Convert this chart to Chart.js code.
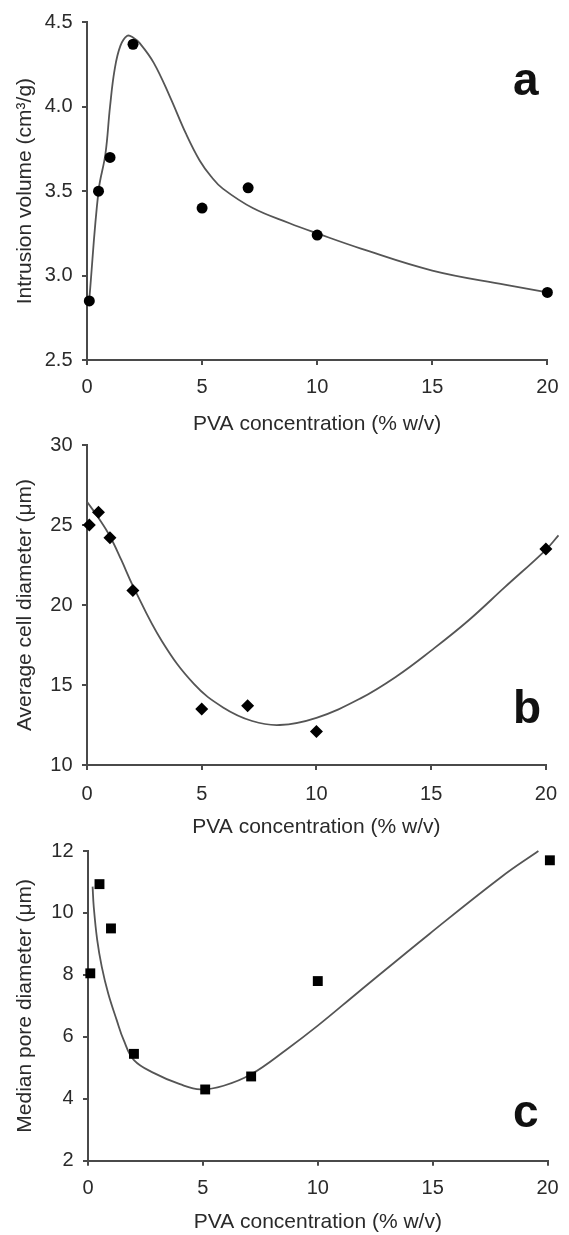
<!DOCTYPE html>
<html><head><meta charset="utf-8">
<script src="https://cdn.jsdelivr.net/npm/chart.js@4.4.1/dist/chart.umd.min.js"></script>
<style>
html,body{margin:0;padding:0;background:#fff;width:569px;height:1235px;overflow:hidden}
canvas{position:absolute;left:0}
</style></head><body>
<canvas id="ca" width="569" height="440" style="top:0px"></canvas>
<canvas id="cb" width="569" height="425" style="top:415px"></canvas>
<canvas id="cc" width="569" height="415" style="top:820px"></canvas>
<script>
// ---- data ----
const pvaA = [0.1, 0.5, 1, 2, 5, 7, 10, 20];
const intrusionVolume = [2.85, 3.5, 3.7, 4.37, 3.4, 3.52, 3.24, 2.9];
const fitAx = [0.1, 0.5, 0.8, 1.0, 1.2, 1.45, 1.75, 2.0, 2.3, 2.9, 3.6, 4.3, 4.9, 5.4, 5.9, 7.2, 8.8, 10, 11.9, 15, 18.2, 20];
const fitAy = [2.86, 3.5, 3.72, 4.0, 4.22, 4.36, 4.42, 4.41, 4.375, 4.26, 4.06, 3.84, 3.68, 3.585, 3.515, 3.40, 3.31, 3.25, 3.16, 3.03, 2.945, 2.9];

const pvaB = [0.1, 0.5, 1, 2, 5, 7, 10, 20];
const cellDiameter = [25.0, 25.8, 24.2, 20.9, 13.5, 13.7, 12.1, 23.5];
const fitBx = [0, 0.5, 1, 1.5, 2, 3.26, 4.67, 5.93, 7.2, 8.4, 10, 11.9, 13.5, 15, 16.6, 18.2, 20, 20.55];
const fitBy = [26.45, 25.45, 24.3, 22.8, 21.2, 17.75, 15.05, 13.6, 12.75, 12.5, 12.95, 14.15, 15.55, 17.15, 19.0, 21.1, 23.45, 24.35];

const pvaC = [0.1, 0.5, 1, 2, 5.1, 7.1, 10, 20.1];
const poreDiameter = [8.05, 10.93, 9.5, 5.45, 4.3, 4.72, 7.8, 11.7];
const fitCx = [0.2, 0.25, 0.4, 0.6, 0.88, 1.25, 1.55, 2.0, 2.9, 4.0, 4.9, 5.9, 7.1, 8.66, 10, 11.76, 14.87, 18, 19.6];
const fitCy = [10.85, 10.2, 9.13, 8.26, 7.4, 6.54, 5.9, 5.25, 4.82, 4.47, 4.3, 4.42, 4.79, 5.6, 6.36, 7.44, 9.33, 11.17, 12.0];

const xTicks = [0, 5, 10, 15, 20];
const yTicksA = [2.5, 3.0, 3.5, 4.0, 4.5];
const yTicksB = [10, 15, 20, 25, 30];
const yTicksC = [2, 4, 6, 8, 10, 12];

const xTitle = 'PVA concentration (% w/v)';
const yTitleA = 'Intrusion volume (cm\u00B3/g)';
const yTitleB = 'Average cell diameter (\u03BCm)';
const yTitleC = 'Median pore diameter (\u03BCm)';
const panelLetters = ['a', 'b', 'c'];

// ---- helpers ----
const FONT = "'Liberation Sans', Arial, Helvetica, sans-serif";
const TEXT = '#2a2a2a';
const AXIS = '#4a4a4a';
const CURVE = '#555555';

function pts(xs, ys) { return xs.map((x, i) => ({x: x, y: ys[i]})); }

function makePanel(id, cfg) {
  const letterPlugin = {
    id: 'letter' + id,
    afterDraw(chart) {
      const ctx = chart.ctx;
      ctx.save();
      ctx.fillStyle = '#111';
      ctx.font = 'bold 46px ' + FONT;
      ctx.textAlign = 'left';
      ctx.textBaseline = 'alphabetic';
      ctx.fillText(cfg.letter, cfg.letterPos[0], cfg.letterPos[1]);
      ctx.restore();
    }
  };
  return new Chart(document.getElementById(id), {
    type: 'scatter',
    data: {
      datasets: [
        {
          type: 'scatter',
          data: pts(cfg.px, cfg.py),
          pointStyle: cfg.marker,
          pointRadius: cfg.radius,
          pointHoverRadius: cfg.radius,
          backgroundColor: '#000',
          borderColor: '#000',
          borderWidth: 0,
          clip: false,
          order: 0
        },
        {
          type: 'line',
          data: pts(cfg.fx, cfg.fy),
          borderColor: CURVE,
          borderWidth: 1.8,
          pointRadius: 0,
          fill: false,
          tension: 0.4,
          clip: false,
          order: 1
        }
      ]
    },
    options: {
      responsive: false,
      animation: false,
      devicePixelRatio: 1,
      layout: { padding: { top: cfg.padTop, right: cfg.padRight, bottom: 0, left: 0 } },
      plugins: { legend: { display: false }, tooltip: { enabled: false } },
      scales: {
        x: {
          type: 'linear',
          afterDataLimits: s => { s.min = 0; s.max = 20; },
          afterBuildTicks: s => { s.ticks = xTicks.map(v => ({value: v})); },
          afterFit: s => { s.height = cfg.xH; },
          border: { display: true, color: AXIS, width: 2 },
          grid: { display: true, drawOnChartArea: false, drawTicks: true, tickLength: 5, color: AXIS, lineWidth: 2 },
          ticks: { color: TEXT, font: { family: FONT, size: 20 }, padding: cfg.xTickPad, maxRotation: 0, autoSkip: false,
                   callback: v => String(v) },
          title: { display: true, text: xTitle, color: TEXT, font: { family: FONT, size: 21 },
                   padding: { top: 0, bottom: cfg.xTitlePad } }
        },
        y: {
          type: 'linear',
          min: cfg.yTicks[0],
          max: cfg.yTicks[cfg.yTicks.length - 1],
          afterBuildTicks: s => { s.ticks = cfg.yTicks.map(v => ({value: v})); },
          afterFit: s => { s.width = cfg.yW; },
          border: { display: true, color: AXIS, width: 2 },
          grid: { display: true, drawOnChartArea: false, drawTicks: true, tickLength: 5, color: AXIS, lineWidth: 2 },
          ticks: { color: TEXT, font: { family: FONT, size: 20 }, padding: 9.5, autoSkip: false,
                   callback: v => cfg.yFmt(v) },
          title: { display: true, text: cfg.yTitle, color: TEXT, font: { family: FONT, size: 21 },
                   padding: { top: 13, bottom: 0 } }
        }
      }
    },
    plugins: [letterPlugin]
  });
}

makePanel('ca', {
  px: pvaA, py: intrusionVolume, fx: fitAx, fy: fitAy,
  marker: 'circle', radius: 5.5,
  yTicks: yTicksA, yFmt: v => Number(v).toFixed(1), yTitle: yTitleA,
  padTop: 22.3, padRight: 18, xH: 80, yW: 87, xTickPad: 10.5, xTitlePad: 3.4,
  letter: panelLetters[0], letterPos: [513, 95]
});
makePanel('cb', {
  px: pvaB, py: cellDiameter, fx: fitBx, fy: fitBy,
  marker: 'rectRot', radius: 6.5,
  yTicks: yTicksB, yFmt: v => String(v), yTitle: yTitleB,
  padTop: 30, padRight: 20, xH: 75, yW: 87, xTickPad: 12, xTitlePad: 0.4,
  letter: panelLetters[1], letterPos: [513, 308]
});
makePanel('cc', {
  px: pvaC, py: poreDiameter, fx: fitCx, fy: fitCy,
  marker: 'rect', radius: 7,
  yTicks: yTicksC, yFmt: v => String(v), yTitle: yTitleC,
  padTop: 31, padRight: 15, xH: 74.3, yW: 88, xTickPad: 10.3, xTitlePad: 0,
  letter: panelLetters[2], letterPos: [513, 307]
});
</script>
</body></html>
